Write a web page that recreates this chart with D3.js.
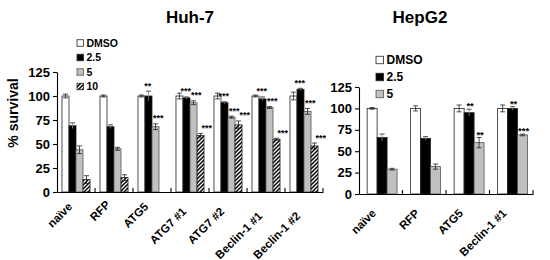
<!DOCTYPE html>
<html><head><meta charset="utf-8">
<script src="https://cdn.jsdelivr.net/npm/d3@7"></script>
<style>body{margin:0;background:#fff}svg{display:block}text{font-family:"Liberation Sans",Arial,sans-serif;font-weight:bold;fill:#000}</style>
</head><body>
<svg id="c" width="550" height="260"></svg>
<script>
// ---- data ----
const huhGroups = ["naïve","RFP","ATG5","ATG7 #1","ATG7 #2","Beclin-1 #1","Beclin-1 #2"];
const huhSeries = ["DMSO","2.5","5","10"];
const huhDMSO = [100,100,100,100,100,100,100];
const huh25   = [69,68,100,98,93,97,107];
const huh5    = [44,45,68,93,78,88,84];
const huh10   = [13,15,null,59,70,55,48];
const huhErrDMSO = [2,1,1,3,3,1,4];
const huhErr25   = [3,2,5,1,1,2,1];
const huhErr5    = [4,1.5,3,2,1,1,3];
const huhErr10   = [4,3,null,2,4,1,3];
const huhStars25 = ["","","**","***","***","***","***"];
const huhStars5  = ["","","***","***","***","***","***"];
const huhStars10 = ["","","","***","***","***","***"];

const hepGroups = ["naïve","RFP","ATG5","Beclin-1 #1"];
const hepSeries = ["DMSO","2.5","5"];
const hepDMSO = [100,100,100,100];
const hep25   = [66,65,95,100];
const hep5    = [29,32,60,69];
const hepErrDMSO = [1,3,4,4];
const hepErr25   = [4,2,4,2];
const hepErr5    = [1,3,6,1];
const hepStars25 = ["","","**","**"];
const hepStars5  = ["","","**","***"];

const yTicks = [0,25,50,75,100,125];

const svg = d3.select("#c");
const defs = svg.append("defs");
const pat = defs.append("pattern").attr("id","hatch").attr("patternUnits","userSpaceOnUse")
  .attr("width",4).attr("height",4);
pat.append("rect").attr("width",4).attr("height",4).attr("fill","#fff");
pat.append("path").attr("d","M-1,1 l2,-2 M0,4 l4,-4 M3,5 l2,-2").attr("stroke","#000").attr("stroke-width",1.5);

const fills = {"DMSO":"#fff","2.5":"#000","5":"#c0c0c0","10":"url(#hatch)"};

function chart(cfg){
  const g = svg.append("g");
  const y = d3.scaleLinear().domain([0,125]).range([cfg.y0,cfg.y1]);
  const x0 = d3.scaleBand().domain(cfg.groups).range([cfg.x0,cfg.x1]);
  const x1 = d3.scaleBand().domain(cfg.series).range([0,x0.bandwidth()]).paddingOuter(cfg.pad).align(cfg.align);
  const starLayer = g.append("g");
  cfg.series.forEach((s,si)=>{
    const vals = cfg.values[si], errs = cfg.errs[si], stars = cfg.stars[si];
    cfg.groups.forEach((grp,gi)=>{
      const v = vals[gi]; if(v==null) return;
      const bx = x0(grp)+x1(s), bw = x1.bandwidth();
      g.append("rect").attr("x",bx).attr("y",y(v)).attr("width",bw).attr("height",y(0)-y(v))
        .attr("fill",fills[s]).attr("stroke", s==="5" ? "#555" : "#222").attr("stroke-width",0.8);
      const e = errs[gi];
      if(e){
        const cx = bx+bw/2, cw = Math.min(5,bw*0.7);
        g.append("line").attr("x1",cx).attr("x2",cx).attr("y1",y(v+e)).attr("y2",y(Math.max(0,v-e))).attr("stroke",s==="2.5"?"#888":"#222").attr("stroke-width",0.8);
        g.append("line").attr("x1",cx-cw/2).attr("x2",cx+cw/2).attr("y1",y(v+e)).attr("y2",y(v+e)).attr("stroke","#222").attr("stroke-width",0.8);
        if(s!=="2.5") g.append("line").attr("x1",cx-cw/2).attr("x2",cx+cw/2).attr("y1",y(v-e)).attr("y2",y(v-e)).attr("stroke","#222").attr("stroke-width",0.8);
      }
      if(stars && stars[gi]){
        const gc = x0(grp)+x0.bandwidth()/2;
        const sx = gc + (bx+bw/2-gc)*cfg.starSpread + cfg.starDx;
        starLayer.append("text").attr("x",sx).attr("y",y(v+(e||0))+cfg.starDy)
          .attr("text-anchor","middle").attr("font-size",cfg.starFont).attr("fill","#000").text(stars[gi]);
      }
    });
  });
  starLayer.raise();
  // y axis
  const ya = g.append("g").attr("transform",`translate(${cfg.x0},0)`)
    .call(d3.axisLeft(y).tickValues(yTicks).tickSize(4).tickPadding(3).tickSizeOuter(0));
  ya.selectAll("text").attr("font-size",13).attr("fill","#000");
  ya.selectAll("line,path").attr("stroke","#000").attr("stroke-width",1.1);
  // x axis
  const xa = g.append("g").attr("transform",`translate(0,${cfg.y0})`)
    .call(d3.axisBottom(x0).tickValues([]).tickSizeOuter(0));
  xa.select("path").attr("stroke","#000").attr("stroke-width",1.1);
  cfg.groups.forEach(grp=>{
    const bx = x0(grp)+x0.bandwidth();
    g.append("line").attr("x1",bx).attr("x2",bx).attr("y1",cfg.y0).attr("y2",cfg.y0-4).attr("stroke","#000").attr("stroke-width",1.1);
    const cx = x0(grp)+x0.bandwidth()/2 + cfg.labDx;
    const t = g.append("text").attr("text-anchor","end").attr("font-size",11.5).text(grp);
    const L = t.node().getComputedTextLength();
    const dy = cfg.labDy + cfg.labK*L;
    t.attr("transform",`translate(${cx},${cfg.y0+dy}) rotate(-45)`);
  });
  // title
  g.append("text").attr("x",cfg.titleX).attr("y",23).attr("text-anchor","middle").attr("font-size",17).text(cfg.title);
  // legend
  cfg.series.forEach((s,i)=>{
    const ly = cfg.legY + i*cfg.legStep;
    g.append("rect").attr("x",cfg.legX).attr("y",ly-cfg.legSq/2).attr("width",cfg.legSq).attr("height",cfg.legSq)
      .attr("fill",fills[s]).attr("stroke", s==="5" ? "#555" : "#222").attr("stroke-width",0.8);
    g.append("text").attr("x",cfg.legX+cfg.legSq+3).attr("y",ly).attr("dy","0.36em")
      .attr("font-size",cfg.legFont).text(s);
  });
}

chart({groups:huhGroups, series:huhSeries,
  values:[huhDMSO,huh25,huh5,huh10], errs:[huhErrDMSO,huhErr25,huhErr5,huhErr10],
  stars:[null,huhStars25,huhStars5,huhStars10],
  x0:57, x1:323, y0:192, y1:72, pad:0.71, align:0.5, starDx:1, starDy:-2.5, starFont:9, starSpread:1.5,
  labDx:-3, labDy:6.5, labK:0.3, title:"Huh-7", titleX:190,
  legX:77, legY:43, legStep:14.5, legSq:6.5, legFont:10.5});

chart({groups:hepGroups, series:hepSeries,
  values:[hepDMSO,hep25,hep5], errs:[hepErrDMSO,hepErr25,hepErr5],
  stars:[null,hepStars25,hepStars5],
  x0:359, x1:533, y0:194, y1:87, pad:0.68, align:0.6, starDx:1, starDy:0, starFont:9.5, starSpread:1,
  labDx:-4, labDy:20, labK:0, title:"HepG2", titleX:420,
  legX:376, legY:60, legStep:17, legSq:7.5, legFont:12});

// y label
svg.append("text").attr("transform","translate(18,113) rotate(-90)").attr("text-anchor","middle")
  .attr("font-size",14).text("% survival");
</script>
</body></html>
